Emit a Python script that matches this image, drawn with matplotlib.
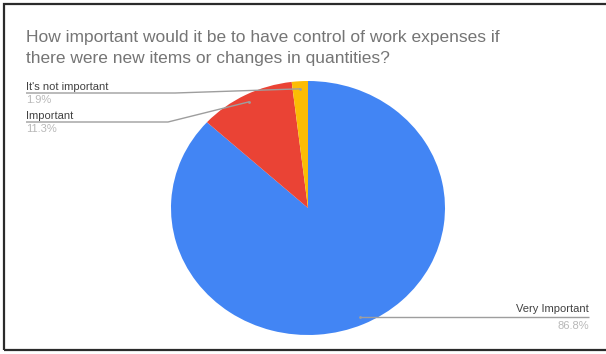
import numpy as np
import matplotlib
matplotlib.use("Agg")
import matplotlib.pyplot as plt
from matplotlib.patches import Rectangle

# data
labels = ["Very Important", "Important", "It's not important"]
shares = [86.8, 11.3, 1.9]
colors = ["#4285F4", "#EA4335", "#FBBC04"]
title_lines = ["How important would it be to have control of work expenses if",
               "there were new items or changes in quantities?"]

W, H = 606, 354
plt.rcParams['font.family'] = ['Liberation Sans', 'DejaVu Sans']

fig = plt.figure(figsize=(W / 100, H / 100), dpi=100)

# pie box in pixels (the source picture is slightly stretched sideways)
cx, cy, rx, ry = 308, 208, 137, 127
pax = fig.add_axes([(cx - rx) / W, 1 - (cy + ry) / H, 2 * rx / W, 2 * ry / H])
wedges, _ = pax.pie(shares, colors=colors, startangle=90, counterclock=False,
                    wedgeprops=dict(linewidth=0))
pax.set_aspect('auto')
pax.set_xlim(-1, 1)
pax.set_ylim(-1, 1)
pax.axis('off')

# overlay in pixel coordinates
ax = fig.add_axes([0, 0, 1, 1])
ax.set_xlim(0, W)
ax.set_ylim(H, 0)
ax.axis('off')

def anchor(w, frac=0.94):
    a = np.deg2rad((w.theta1 + w.theta2) / 2)
    return cx + frac * rx * np.cos(a), cy - frac * ry * np.sin(a)

line_kw = dict(color="#9e9e9e", lw=1.0, solid_capstyle='butt')
lab_kw = dict(fontsize=8, color="#424242")
pct_kw = dict(fontsize=8, color="#b8b8b8")

# left labels: (index, baseline y, bend x)
for i, yb, bend in [(2, 90, 175), (1, 119, 168)]:
    px, py = anchor(wedges[i])
    ax.text(26, yb, labels[i], ha='left', va='baseline', **lab_kw)
    ax.text(26, yb + 13, f"{shares[i]}%", ha='left', va='baseline', **pct_kw)
    ax.plot([26, bend, px], [yb + 3, yb + 3, py], **line_kw)
    ax.plot(px, py, 'o', ms=2, color="#9e9e9e", mec='none')

px, py = anchor(wedges[0])
ax.text(589, py - 5, labels[0], ha='right', va='baseline', **lab_kw)
ax.text(589, py + 12, f"{shares[0]}%", ha='right', va='baseline', **pct_kw)
ax.plot([px, 589], [py, py], **line_kw)
ax.plot(px, py, 'o', ms=2, color="#9e9e9e", mec='none')

for k, line in enumerate(title_lines):
    ax.text(26, 42 + 21 * k, line, ha='left', va='baseline', fontsize=12.5,
            color="#757575")

fig.patches.append(Rectangle((4 / W, 4 / H), 1.2, 1 - 8 / H, transform=fig.transFigure,
                             fill=False, ec="#2b2b2b", lw=1.6))

fig.savefig("out.png", dpi=100)
